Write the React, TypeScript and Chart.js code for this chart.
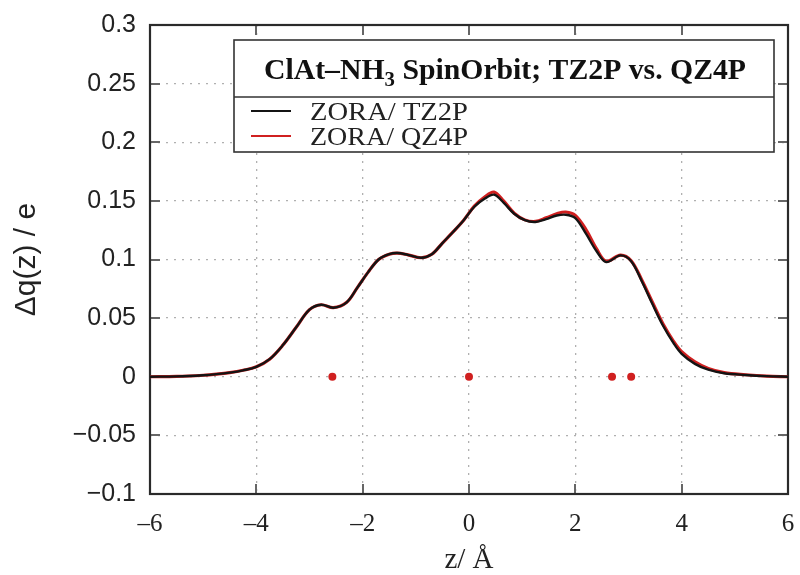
import { useEffect, useRef } from "react";
import { Chart, registerables } from "chart.js";

Chart.register(...registerables);

// ---- data ----
const zValues = [-6, -5.5, -5, -4.75, -4.5, -4.25, -4, -3.75, -3.5, -3.25, -3, -2.78, -2.55, -2.3, -2.1, -1.9, -1.7, -1.5, -1.35, -1.15, -0.9, -0.7, -0.5, -0.3, -0.1, 0.1, 0.3, 0.47, 0.65, 0.85, 1.05, 1.25, 1.45, 1.65, 1.82, 2.0, 2.2, 2.4, 2.58, 2.85, 3.05, 3.25, 3.45, 3.65, 3.85, 4.0, 4.25, 4.5, 4.8, 5.2, 5.6, 6];
const tz2pValues = [0, 0.0003, 0.0013, 0.0022, 0.0035, 0.0055, 0.0085, 0.015, 0.027, 0.0422, 0.0572, 0.0614, 0.0589, 0.0635, 0.076, 0.089, 0.1, 0.1045, 0.1055, 0.104, 0.1015, 0.1045, 0.114, 0.1235, 0.1335, 0.145, 0.152, 0.1553, 0.1485, 0.139, 0.1335, 0.132, 0.1345, 0.1375, 0.1382, 0.1353, 0.122, 0.107, 0.0978, 0.1035, 0.0985, 0.0815, 0.062, 0.0435, 0.0285, 0.0196, 0.011, 0.006, 0.003, 0.0015, 0.0005, 0];
const qz4pValues = [0, 0.0003, 0.0013, 0.0022, 0.0035, 0.0055, 0.0085, 0.015, 0.027, 0.0422, 0.0572, 0.0614, 0.0589, 0.0635, 0.076, 0.089, 0.1, 0.1045, 0.1055, 0.104, 0.1015, 0.1045, 0.114, 0.1235, 0.1335, 0.1455, 0.1535, 0.1575, 0.15, 0.1395, 0.1338, 0.1325, 0.1355, 0.139, 0.1405, 0.1376, 0.1255, 0.109, 0.0985, 0.1038, 0.099, 0.0825, 0.0635, 0.045, 0.03, 0.0213, 0.0126, 0.007, 0.0035, 0.0017, 0.0005, 0];
const atomZ = [-2.57, 0, 2.69, 3.05];
const atomQ = [0, 0, 0, 0];
const xTickValues = [-6, -4, -2, 0, 2, 4, 6];
const xTickLabels = ["\u20136", "\u20134", "\u20132", "0", "2", "4", "6"];
const yTickValues = [-0.1, -0.05, 0, 0.05, 0.1, 0.15, 0.2, 0.25, 0.3];
const yTickLabels = ["\u22120.1", "\u22120.05", "0", "0.05", "0.1", "0.15", "0.2", "0.25", "0.3"];
const seriesLabels = ["ZORA/ TZ2P", "ZORA/ QZ4P"];
const titleParts = ["ClAt\u2013NH", "3", " SpinOrbit; TZ2P vs. QZ4P"];
const xTitle = "z/ \u00c5";
const yTitle = "\u0394q(z) / e";

const BLACK = "#141414";
const RED = "#d02020";

const framePlugin = {
  id: "frameTicks",
  beforeDatasetsDraw(chart: any) {
    const { ctx, chartArea: a, scales } = chart;
    const x = scales.x;
    const y = scales.y;
    ctx.save();
    ctx.strokeStyle = "#666";
    ctx.lineWidth = 2;
    const len = 10;
    ctx.beginPath();
    for (const v of xTickValues) {
      const px = Math.round(x.getPixelForValue(v));
      ctx.moveTo(px, a.bottom);
      ctx.lineTo(px, a.bottom - len);
      ctx.moveTo(px, a.top);
      ctx.lineTo(px, a.top + len);
    }
    for (const v of yTickValues) {
      const py = Math.round(y.getPixelForValue(v));
      ctx.moveTo(a.left, py);
      ctx.lineTo(a.left + len, py);
      ctx.moveTo(a.right, py);
      ctx.lineTo(a.right - len, py);
    }
    ctx.stroke();
    ctx.strokeStyle = "#2a2a2a";
    ctx.lineWidth = 2.2;
    ctx.strokeRect(a.left, a.top, a.right - a.left, a.bottom - a.top);
    ctx.restore();
  },
};

const legendPlugin = {
  id: "boxLegend",
  afterDraw(chart: any) {
    const { ctx } = chart;
    const L = 234, R = 774, T = 40, S = 97, B = 152;
    ctx.save();
    ctx.fillStyle = "#fff";
    ctx.fillRect(L, T, R - L, B - T);
    ctx.strokeStyle = "#333";
    ctx.lineWidth = 1.6;
    ctx.strokeRect(L, T, R - L, B - T);
    ctx.beginPath();
    ctx.moveTo(L, S);
    ctx.lineTo(R, S);
    ctx.stroke();

    // title
    ctx.fillStyle = "#111";
    ctx.textBaseline = "alphabetic";
    ctx.textAlign = "left";
    const big = "bold 30px 'Liberation Serif', serif";
    const small = "bold 21px 'Liberation Serif', serif";
    ctx.font = big;
    const w0 = ctx.measureText(titleParts[0]).width;
    const w2 = ctx.measureText(titleParts[2]).width;
    ctx.font = small;
    const w1 = ctx.measureText(titleParts[1]).width;
    const total = w0 + w1 + w2;
    const target = 482;
    const sx = target / total;
    const cx = 505;
    const base = 79;
    ctx.translate(cx - target / 2, base);
    ctx.scale(sx, 1);
    ctx.font = big;
    ctx.fillText(titleParts[0], 0, 0);
    ctx.font = small;
    ctx.fillText(titleParts[1], w0, 7);
    ctx.font = big;
    ctx.fillText(titleParts[2], w0 + w1, 0);
    ctx.setTransform(1, 0, 0, 1, 0, 0);

    // entries
    const rows = [120, 145];
    const colors = [BLACK, RED];
    ctx.font = "26px 'Liberation Serif', serif";
    ctx.fillStyle = "#222";
    for (let i = 0; i < 2; i++) {
      ctx.strokeStyle = colors[i];
      ctx.lineWidth = 2;
      ctx.beginPath();
      ctx.moveTo(251, rows[i] - 9);
      ctx.lineTo(291, rows[i] - 9);
      ctx.stroke();
      const tw = ctx.measureText(seriesLabels[i]).width;
      ctx.save();
      ctx.translate(310, rows[i]);
      ctx.scale(158 / tw, 1);
      ctx.fillText(seriesLabels[i], 0, 0);
      ctx.restore();
    }
    ctx.restore();
  },
};

export default function App() {
  const ref = useRef<HTMLCanvasElement>(null);
  useEffect(() => {
    if (!ref.current) return;
    const tz = zValues.map((z, i) => ({ x: z, y: tz2pValues[i] }));
    const qz = zValues.map((z, i) => ({ x: z, y: qz4pValues[i] }));
    const atoms = atomZ.map((z, i) => ({ x: z, y: atomQ[i] }));
    const chart = new Chart(ref.current, {
      type: "scatter",
      data: {
        datasets: [
          {
            label: seriesLabels[0],
            data: tz,
            showLine: true,
            borderColor: BLACK,
            borderWidth: 2.4,
            pointRadius: 0,
            tension: 0.35,
            order: 1,
          },
          {
            label: seriesLabels[1],
            data: qz,
            showLine: true,
            borderColor: RED,
            borderWidth: 3.2,
            pointRadius: 0,
            tension: 0.35,
            order: 2,
          },
          {
            label: "atoms",
            data: atoms,
            showLine: false,
            pointRadius: 4,
            pointBackgroundColor: RED,
            pointBorderWidth: 0,
            backgroundColor: RED,
            order: 0,
          },
        ],
      } as any,
      options: {
        animation: false,
        responsive: false,
        layout: { padding: { top: 25, right: 12, left: 0, bottom: 0 } },
        plugins: {
          legend: { display: false },
          tooltip: { enabled: false },
        },
        scales: {
          x: {
            type: "linear",
            min: -6,
            max: 6,
            afterBuildTicks: (s: any) => {
              s.ticks = xTickValues.map((v) => ({ value: v }));
            },
            afterFit: (s: any) => {
              s.height = 81;
              s.paddingLeft = 0;
              s.paddingRight = 0;
            },
            ticks: {
              autoSkip: false,
              maxRotation: 0,
              padding: 15,
              color: "#222",
              font: { family: "'Liberation Serif', serif", size: 25 },
              callback: (_v: any, i: number) => xTickLabels[i],
            },
            grid: {
              color: "#b0b0b0",
              lineWidth: 1.3,
              drawTicks: false,
            },
            border: { display: false, dash: [2, 6] },
            title: {
              display: true,
              text: xTitle,
              color: "#222",
              font: { family: "'Liberation Serif', serif", size: 29, lineHeight: 1 },
              padding: { top: 0, bottom: 0 },
            },
          },
          y: {
            type: "linear",
            min: -0.1,
            max: 0.3,
            afterBuildTicks: (s: any) => {
              s.ticks = yTickValues.map((v) => ({ value: v }));
            },
            afterFit: (s: any) => {
              s.width = 150;
              s.paddingTop = 0;
              s.paddingBottom = 0;
            },
            ticks: {
              autoSkip: false,
              padding: 14,
              color: "#222",
              font: { family: "'Liberation Sans', sans-serif", size: 25 },
              callback: (_v: any, i: number) => yTickLabels[i],
            },
            grid: {
              color: "#b0b0b0",
              lineWidth: 1.3,
              drawTicks: false,
            },
            border: { display: false, dash: [2, 6] },
            title: {
              display: true,
              text: yTitle,
              color: "#222",
              font: { family: "'Liberation Sans', sans-serif", size: 30, lineHeight: 1 },
              padding: { top: 12, bottom: 0 },
            },
          },
        },
      } as any,
      plugins: [framePlugin, legendPlugin],
    });
    return () => chart.destroy();
  }, []);
  return (
    <div style={{ position: "absolute", left: 0, top: 0, width: 800, height: 575, background: "#fff" }}>
      <canvas ref={ref} width={800} height={575} />
    </div>
  );
}
